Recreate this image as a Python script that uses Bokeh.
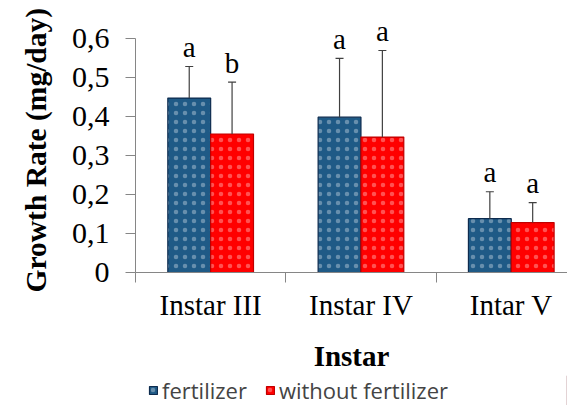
from bokeh.plotting import figure
from bokeh.models import (Range1d, FixedTicker, CustomJSTickFormatter, Whisker,
                          ColumnDataSource, Legend, LegendItem, Title)
from bokeh.layouts import column
from bokeh.core.properties import value
from bokeh.embed import file_html
from bokeh.resources import INLINE

categories = ["Instar III", "Instar IV", "Intar V"]
fert_mean = [0.447, 0.398, 0.138]
fert_err = [0.081, 0.151, 0.069]
nofert_mean = [0.355, 0.347, 0.128]
nofert_err = [0.133, 0.222, 0.051]
fert_letters = ["a", "a", "a"]
nofert_letters = ["b", "a", "a"]
y_ticks = [0, 0.1, 0.2, 0.3, 0.4, 0.5, 0.6]
series_names = ["fertilizer", "without fertilizer"]

SERIF = "Liberation Serif"
AXIS = "#868686"
BW = 0.285

n = len(categories)
centers = [i + 0.5 for i in range(n)]

def bar_style(fill, line):
    return dict(fill_color=fill, line_color=line, line_width=1.2,
                hatch_pattern="dot", hatch_color="white",
                hatch_scale=9, hatch_weight=0.5, hatch_alpha=0.32)

STYLE_F = ("#1F5A86", "#0D2B4E")
STYLE_N = ("#FF0000", "#C00000")

p = figure(width=567, height=375, output_backend="svg", toolbar_location=None,
           x_range=Range1d(0, 434 / 151), y_range=Range1d(0, 0.692),
           min_border_left=133, min_border_right=0, min_border_top=2,
           min_border_bottom=103)
p.outline_line_color = None
p.grid.grid_line_color = None
p.background_fill_color = "white"

def build(means, errs, letters, offset):
    xs = [c + offset for c in centers]
    ups = [m + e for m, e in zip(means, errs)]
    return ColumnDataSource(dict(x=xs, top=means, up=ups,
                                 ly=[u + 0.05 for u in ups], lab=letters))

src_f = build(fert_mean, fert_err, fert_letters, -BW / 2)
src_n = build(nofert_mean, nofert_err, nofert_letters, BW / 2)

p.vbar(x="x", top="top", width=BW, source=src_f, **bar_style(*STYLE_F))
p.vbar(x="x", top="top", width=BW, source=src_n, **bar_style(*STYLE_N))

for src in (src_f, src_n):
    w = Whisker(source=src, base="x", lower="top", upper="up", dimension="height",
                line_color="#404040", line_width=1.2, level="overlay")
    w.lower_head = None
    w.upper_head.size = 8
    w.upper_head.line_color = "#404040"
    w.upper_head.line_width = 1.2
    p.add_layout(w)
    p.text(x="x", y="ly", text="lab", source=src, text_align="center",
           text_baseline="alphabetic", text_font=value(SERIF),
           text_font_size="29px", text_color="black")

# y axis
ya = p.yaxis[0]
ya.ticker = FixedTicker(ticks=y_ticks)
ya.bounds = (0, 0.6)
ya.formatter = CustomJSTickFormatter(code="""
var s = tick.toFixed(1).replace('.', ',');
return s == '0,0' ? '0' : s;""")
ya.axis_line_color = AXIS
ya.major_tick_line_color = AXIS
ya.major_tick_out = 10
ya.major_tick_in = 0
ya.minor_tick_line_color = None
ya.major_label_text_font = SERIF
ya.major_label_text_font_size = "30px"
ya.major_label_text_color = "black"
ya.major_label_standoff = 16

ytitle = Title(text="Growth Rate (mg/day)", align="left", offset=-20,
               text_font=SERIF, text_font_style="bold", text_font_size="29.5px",
               text_color="black", standoff=34)
p.add_layout(ytitle, "left")

# x axis
xa = p.xaxis[0]
xa.ticker = FixedTicker(ticks=centers, minor_ticks=list(range(n + 1)))
xa.major_label_overrides = {c: lab for c, lab in zip(centers, categories)}
xa.axis_line_color = AXIS
xa.major_tick_line_color = None
xa.major_tick_out = 0
xa.major_tick_in = 0
xa.minor_tick_line_color = AXIS
xa.minor_tick_out = 10
xa.minor_tick_in = 0
xa.major_label_text_font = SERIF
xa.major_label_text_font_size = "29px"
xa.major_label_text_color = "black"
xa.major_label_standoff = 6
xa.axis_label = "Instar"
xa.axis_label_text_font = SERIF
xa.axis_label_text_font_style = "bold"
xa.axis_label_text_font_size = "29px"
xa.axis_label_standoff = 16
xa.axis_label_text_color = "black"

# legend strip
lg = figure(width=567, height=30, output_backend="svg", toolbar_location=None,
            x_range=Range1d(0, 1), y_range=Range1d(0, 1),
            x_axis_location=None, y_axis_location=None, min_border=0)
lg.outline_line_color = None
lg.grid.grid_line_color = None
l_f = lg.vbar(x=[5], top=[5], width=0.1, **bar_style(*STYLE_F))
l_n = lg.vbar(x=[5], top=[5], width=0.1, **bar_style(*STYLE_N))
legend = Legend(items=[LegendItem(label=series_names[0], renderers=[l_f]),
                       LegendItem(label=series_names[1], renderers=[l_n])],
                orientation="horizontal", location=(13, 0),
                label_text_font="Open Sans", label_text_font_size="22px",
                glyph_width=10, glyph_height=10, label_standoff=4, spacing=18,
                padding=0, margin=0, border_line_color=None,
                background_fill_alpha=0)
lg.add_layout(legend, "center")

layout = column(p, lg, spacing=0)
open("out.html", "w").write(file_html(layout, INLINE))
